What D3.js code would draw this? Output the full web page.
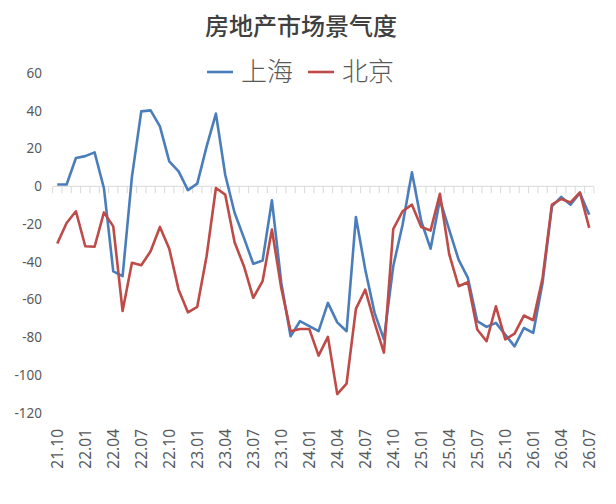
<!DOCTYPE html>
<html><head><meta charset="utf-8">
<script src="https://cdn.jsdelivr.net/npm/d3@7/dist/d3.min.js"></script>
<style>body{margin:0;background:#fff}svg{display:block}</style>
</head><body>
<svg id="c" width="616" height="504"></svg>
<script>
const title = "房地产市场景气度";
const seriesNames = ["上海", "北京"];
const months = [];
(function(){ let y=21,m=10; for(let i=0;i<58;i++){ months.push(String(y).padStart(2,"0")+"."+String(m).padStart(2,"0")); m++; if(m>12){m=1;y++;} } })();
const shanghai = [1,1,15,16,18,-1,-45,-47.5,5,39.7,40.2,31.7,13.2,7.9,-2,1.4,21,38.5,6,-14,-27.3,-41,-39.3,-7.4,-51,-79.4,-71.4,-74,-76.7,-61.7,-72,-76.7,-16.2,-44,-67,-81,-42.3,-20.3,7.4,-18.5,-33,-7,-23,-38.8,-48.5,-71.4,-74.4,-72.3,-78.5,-84.7,-75,-77.6,-51,-10.6,-5.6,-9.7,-3.5,-15];
const beijing = [-30.3,-19.4,-13.2,-31.7,-32,-13.8,-21.2,-66,-40.5,-41.8,-34.4,-21.5,-33,-54.7,-66.7,-63.8,-37,-0.9,-4.4,-29.6,-42.3,-59,-50.2,-22.9,-53.8,-76.7,-75.5,-75.5,-89.6,-79.7,-110,-104.4,-64.9,-54.7,-72.3,-88,-22.6,-13.2,-9.7,-21.5,-23.4,-3.9,-36,-52.9,-50.8,-75.8,-82,-63.5,-81,-78,-68.4,-70.9,-48.5,-9.7,-6.7,-8.5,-3.2,-22];
const yTicks = [60,40,20,0,-20,-40,-60,-80,-100,-120];
const colors = ["#4a7ebb", "#be4b48"];

const svg = d3.select("#c");
const x = d3.scaleBand().domain(months).range([52.6, 593.9]);
const y = d3.scaleLinear().domain([-120, 60]).range([413, 73]);
const cx = d => x(d) + x.bandwidth()/2;

svg.append("text").attr("x", 301).attr("y", 35).attr("text-anchor","middle")
  .attr("font-family","'Noto Sans CJK SC'").attr("font-size",24).attr("font-weight",500)
  .attr("fill","#404040").text(title);

// y tick labels
svg.append("g").selectAll("text").data(yTicks).join("text")
  .attr("x", 42).attr("y", d => y(d)).attr("dy","0.35em").attr("text-anchor","end")
  .attr("font-family","'Noto Sans', sans-serif").attr("font-size",13.5).attr("fill","#595959")
  .text(d => d);

// category axis at zero
const ax = svg.append("g").attr("transform", `translate(0,${y(0)})`);
ax.append("line").attr("x1",52.6).attr("x2",593.9).attr("stroke","#d9d9d9").attr("stroke-width",1);
const bounds = months.map(m => x(m)).concat([x(months[months.length-1]) + x.bandwidth()]);
ax.selectAll("line.t").data(bounds).join("line").attr("class","t")
  .attr("x1", d => d).attr("x2", d => d).attr("y1",0).attr("y2",7)
  .attr("stroke","#d9d9d9").attr("stroke-width",1);

// x labels
svg.append("g").selectAll("text").data(months.filter((m,i)=>i%3===0)).join("text")
  .attr("transform", d => `translate(${cx(d)+5.5},429) rotate(-90)`)
  .attr("text-anchor","end")
  .attr("font-family","'Noto Sans', sans-serif").attr("font-size",15.5).attr("fill","#595959")
  .text(d => d);

// lines
const line = d3.line().x((d,i)=>cx(months[i])).y(d=>y(d));
[shanghai, beijing].forEach((s,k)=>{
  svg.append("path").datum(s).attr("d", line).attr("fill","none")
    .attr("stroke", colors[k]).attr("stroke-width",2.6).attr("stroke-linejoin","round");
});

// legend
const lg = svg.append("g");
const legendItems = [{x:207, tx:241}, {x:308, tx:342}];
legendItems.forEach((p,k)=>{
  lg.append("line").attr("x1",p.x).attr("x2",p.x+26).attr("y1",72).attr("y2",72)
    .attr("stroke",colors[k]).attr("stroke-width",2.6);
  lg.append("text").attr("x",p.tx).attr("y",72).attr("dy","0.36em")
    .attr("font-family","'Noto Sans CJK SC'").attr("font-size",26).attr("font-weight",300)
    .attr("fill","#595959").text(seriesNames[k]);
});
</script>
</body></html>
